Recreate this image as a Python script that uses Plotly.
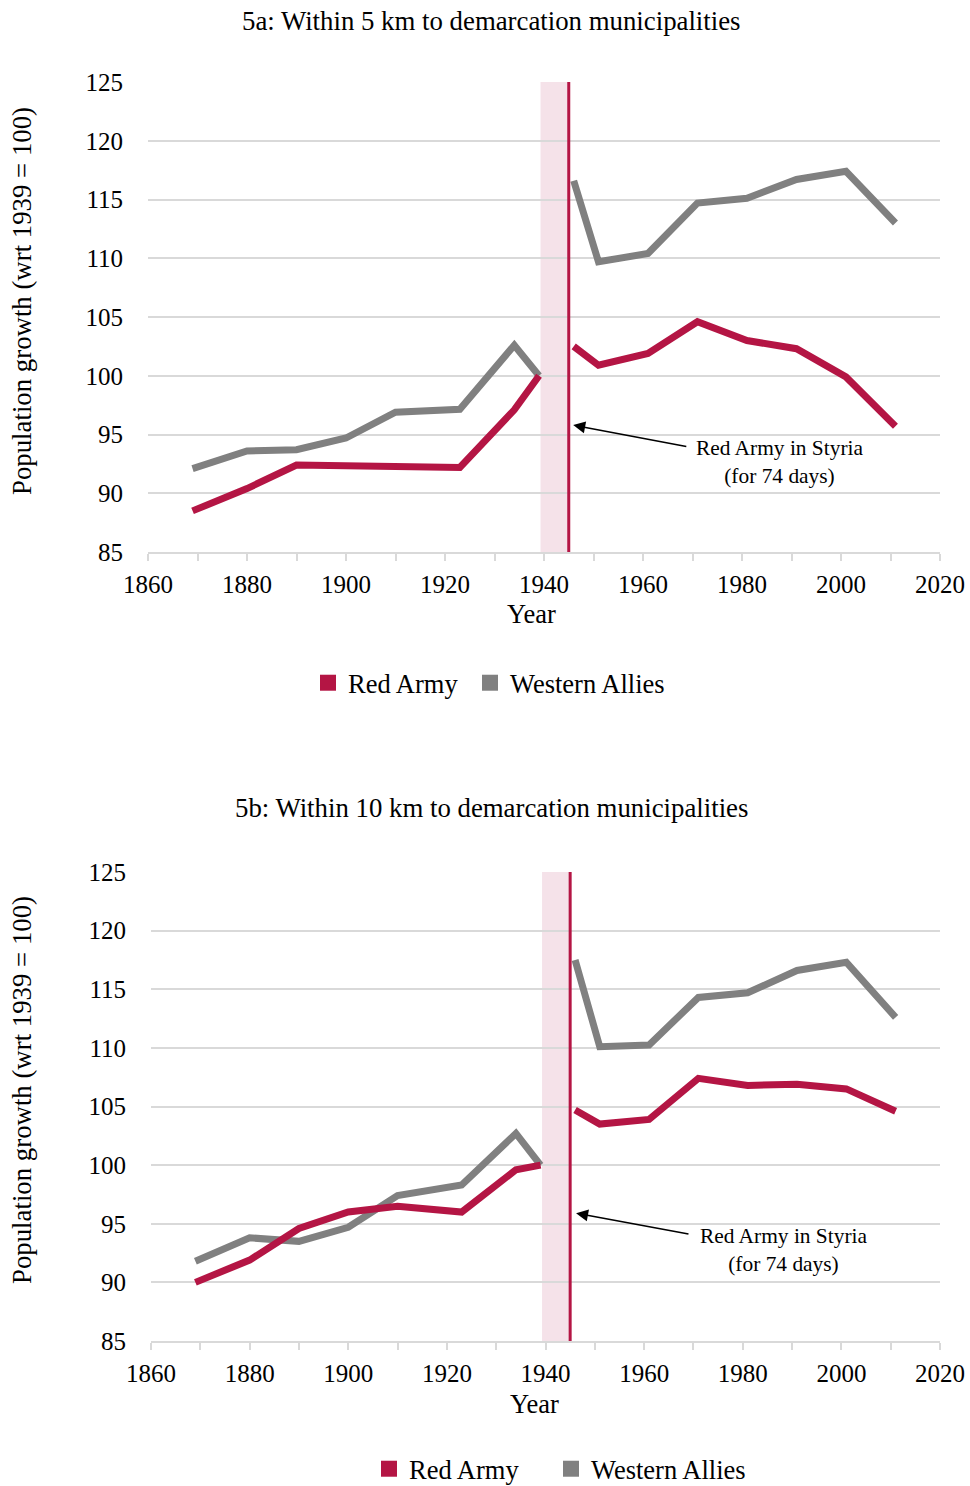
import plotly.graph_objects as go

# ---------------- data ----------------
years = [1869, 1880, 1890, 1900, 1910, 1923, 1934, 1939, None,
         1946, 1951, 1961, 1971, 1981, 1991, 2001, 2011]

red_5km = [88.5, 90.4, 92.4, 92.3, 92.3, 92.2, 97.1, 100.0, None,
           102.5, 100.9, 101.9, 104.6, 103.0, 102.3, 99.9, 95.7]
west_5km = [92.1, 93.6, 93.7, 94.7, 96.9, 97.15, 102.6, 100.0, None,
            116.6, 109.7, 110.4, 114.7, 115.1, 116.7, 117.4, 113.0]

red_10km = [90.0, 91.9, 94.6, 96.0, 96.5, 96.0, 99.6, 100.0, None,
            104.7, 103.5, 103.9, 107.4, 106.8, 106.9, 106.5, 104.6]
west_10km = [91.8, 93.8, 93.5, 94.7, 97.4, 98.3, 102.7, 100.0, None,
             117.5, 110.1, 110.25, 114.3, 114.7, 116.6, 117.3, 112.6]

series_names = ["Red Army", "Western Allies"]
titles = ["5a: Within 5 km to demarcation municipalities",
          "5b: Within 10 km to demarcation municipalities"]
y_title = "Population growth (wrt 1939 = 100)"
x_title = "Year"
annot_text = "Red Army in Styria<br>(for 74 days)"
occupation_start, occupation_end = 1939.3, 1945
x_range = [1860, 2020]
y_range = [85, 125]

# ---------------- style ----------------
RED = "#B41544"
GRAY = "#808080"
BAND = "#F5E2E9"
GRID = "#D9D9D9"
FONT = "Liberation Serif"
W, H = 970, 1486

def px_x(p):
    return p / W

def px_y(p):
    return 1 - p / H

fig = go.Figure()

panels = [
    dict(xa="x", ya="y", red=red_5km, west=west_5km, leg="legend"),
    dict(xa="x2", ya="y2", red=red_10km, west=west_10km, leg="legend2"),
]

for p in panels:
    fig.add_trace(go.Scatter(x=years, y=p["west"], mode="lines",
                             line=dict(color=GRAY, width=7),
                             xaxis=p["xa"], yaxis=p["ya"], showlegend=False,
                             connectgaps=False, hoverinfo="x+y"))
    fig.add_trace(go.Scatter(x=years, y=p["red"], mode="lines",
                             line=dict(color=RED, width=7),
                             xaxis=p["xa"], yaxis=p["ya"], showlegend=False,
                             connectgaps=False, hoverinfo="x+y"))
    for name, col in zip(series_names, [RED, GRAY]):
        fig.add_trace(go.Scatter(x=[None], y=[None], mode="markers",
                                 marker=dict(symbol="square", size=18, color=col),
                                 name=name, xaxis=p["xa"], yaxis=p["ya"],
                                 legend=p["leg"], showlegend=True, hoverinfo="skip"))
    # empty spacer entry so the last legend label is not clipped
    fig.add_trace(go.Scatter(x=[None], y=[None], mode="markers",
                             marker=dict(symbol="square", size=1, color="rgba(0,0,0,0)"),
                             name=" ", xaxis=p["xa"], yaxis=p["ya"],
                             legend=p["leg"], showlegend=True, hoverinfo="skip"))
    # occupation band + vertical line
    fig.add_shape(type="rect", xref=p["xa"], yref=p["ya"],
                  x0=occupation_start, x1=occupation_end, y0=y_range[0], y1=y_range[1],
                  fillcolor=BAND, line=dict(width=0), layer="below")
    fig.add_shape(type="line", xref=p["xa"], yref=p["ya"],
                  x0=occupation_end, x1=occupation_end, y0=y_range[0], y1=y_range[1],
                  line=dict(color=RED, width=3), layer="above")

axis_common_x = dict(range=x_range, dtick=20, tick0=1860, showgrid=False,
                     showline=True, linecolor=GRID, linewidth=1.5,
                     ticks="outside", ticklen=7, tickcolor=GRID, tickwidth=1.5,
                     ticklabelstandoff=2,
                     minor=dict(dtick=10, ticks="outside", ticklen=7, tickcolor=GRID, tickwidth=1.5),
                     tickfont=dict(family=FONT, size=25, color="black"),
                     zeroline=False, fixedrange=True, automargin=False)
axis_common_y = dict(range=y_range, dtick=5, tick0=85, showgrid=True,
                     gridcolor=GRID, gridwidth=1.5, showline=False, ticks="",
                     ticklabelstandoff=24,
                     tickfont=dict(family=FONT, size=25, color="black"),
                     zeroline=False, fixedrange=True, automargin=False)

fig.update_layout(
    width=W, height=H,
    margin=dict(l=0, r=0, t=0, b=0, pad=0, autoexpand=False),
    paper_bgcolor="white", plot_bgcolor="white",
    font=dict(family=FONT, color="black"),
    xaxis=dict(axis_common_x, domain=[px_x(148), px_x(940)], anchor="y"),
    yaxis=dict(axis_common_y, domain=[px_y(552), px_y(82)], anchor="x"),
    xaxis2=dict(axis_common_x, domain=[px_x(151), px_x(940)], anchor="y2"),
    yaxis2=dict(axis_common_y, domain=[px_y(1341), px_y(872)], anchor="x2"),
    legend=dict(orientation="h", x=px_x(308), y=px_y(683), xanchor="left",
                yanchor="middle", font=dict(family=FONT, size=26.5, color="black"),
                bgcolor="rgba(0,0,0,0)", entrywidth=117),
    legend2=dict(orientation="h", x=px_x(369), y=px_y(1469), xanchor="left",
                 yanchor="middle", font=dict(family=FONT, size=26.5, color="black"),
                 bgcolor="rgba(0,0,0,0)", entrywidth=137),
    showlegend=True,
    hovermode="closest",
)

annotations = []
# panel titles
for t, cx, cy in [(titles[0], 491, 21), (titles[1], 491, 808)]:
    annotations.append(dict(text=t, x=px_x(cx), y=px_y(cy), xref="paper", yref="paper",
                            showarrow=False, xanchor="center", yanchor="middle",
                            font=dict(family=FONT, size=26.8, color="black")))
# axis titles
for cx, cy in [(531, 614), (534, 1404)]:
    annotations.append(dict(text=x_title, x=px_x(cx), y=px_y(cy), xref="paper", yref="paper",
                            showarrow=False, xanchor="center", yanchor="middle",
                            font=dict(family=FONT, size=26.5, color="black")))
for cx, cy in [(22, 301), (22, 1090)]:
    annotations.append(dict(text=y_title, x=px_x(cx), y=px_y(cy), xref="paper", yref="paper",
                            showarrow=False, xanchor="center", yanchor="middle", textangle=-90,
                            font=dict(family=FONT, size=26.8, color="black")))
# arrows and notes
for xa, ya, tip, tail, txt in [("x", "y", (1945.9, 95.8), (1969.05, 93.96), (1987.5, 92.66)),
                               ("x2", "y2", (1946.2, 95.9), (1969.3, 94.1), (1988.2, 92.73))]:
    annotations.append(dict(text="", x=tip[0], y=tip[1], xref=xa, yref=ya,
                            ax=tail[0], ay=tail[1], axref=xa, ayref=ya,
                            showarrow=True, arrowhead=2, arrowsize=1.6, arrowwidth=1.5,
                            arrowcolor="black", standoff=0))
    annotations.append(dict(text=annot_text, x=txt[0], y=txt[1], xref=xa, yref=ya,
                            showarrow=False, xanchor="center", yanchor="middle",
                            font=dict(family=FONT, size=21.4, color="black")))

fig.update_layout(annotations=annotations)

fig.write_html("out.html", config={"displayModeBar": False},
               post_script="document.body.style.margin='0';document.body.style.overflow='hidden';")
